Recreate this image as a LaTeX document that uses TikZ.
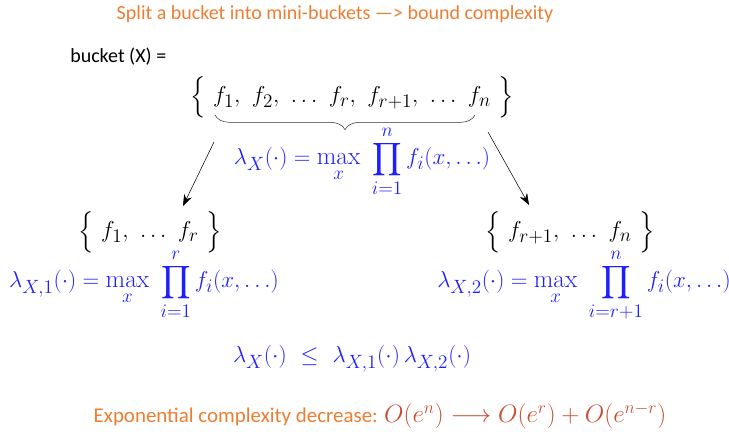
\documentclass[tikz,border=0pt]{standalone}
\usepackage{exscale}
\usepackage{amsmath}
\usepackage{fontspec}
\newfontfamily\calibri{Carlito}
\usepackage{xcolor}
\usetikzlibrary{arrows.meta,decorations.pathreplacing}

\definecolor{titleorange}{RGB}{237,125,49}
\definecolor{mathblue}{RGB}{30,30,255}
\definecolor{mathred}{RGB}{200,75,50}

\begin{document}
\begin{tikzpicture}[
    x=0.75pt, y=-0.75pt,
    mtext/.style={inner sep=0pt, font=\fontsize{19}{21}\selectfont},
    blue eq/.style={mtext, text=mathblue},
    slide text/.style={inner sep=0pt, font=\calibri\fontsize{15}{18}\selectfont},
    arrow/.style={-{Stealth[length=3mm,width=2.2mm]}, thin},
    underbrace/.style={decorate, decoration={brace, mirror, amplitude=11pt}, draw=black!80, thin}
  ]
    \useasboundingbox (0,0) rectangle (729,438);

    \node[slide text, text=titleorange] (title) at (335,14) {Split a bucket into mini-buckets —> bound complexity};
    \node[slide text, anchor=west] (bucket) at (70,57) {bucket (X) =};

    % whole bucket
    \node[mtext, anchor=base] (full) at (352,103)
      {$\Big\{\ f_1,\ f_2,\ \ldots\ f_r,\ f_{r+1},\ \ldots\ f_n\ \Big\}$};
    \coordinate (braceL) at (215,115);
    \coordinate (braceR) at (475,115);
    \draw[underbrace] (braceL) -- (braceR);
    \node[blue eq, anchor=base] (lamfull) at (362,165)
      {$\displaystyle \lambda_X(\cdot) = \max_x\ \prod_{i=1}^{n} f_i(x,\ldots)$};

    % mini-buckets
    \node[mtext, anchor=base] (left) at (150,238) {$\Big\{\ f_1,\ \ldots\ f_r\ \Big\}$};
    \node[mtext, anchor=base] (right) at (570,238) {$\Big\{\ f_{r+1},\ \ldots\ f_n\ \Big\}$};
    \node[blue eq, anchor=base] (lamleft) at (144,288)
      {$\displaystyle \lambda_{X,1}(\cdot) = \max_x\ \prod_{i=1}^{r} f_i(x,\ldots)$};
    \node[blue eq, anchor=base] (lamright) at (584,288)
      {$\displaystyle \lambda_{X,2}(\cdot) = \max_x\ \prod_{i=r+1}^{n} f_i(x,\ldots)$};

    \node[blue eq, anchor=base] (ineq) at (352,363)
      {$\lambda_X(\cdot)\ \le\ \lambda_{X,1}(\cdot)\,\lambda_{X,2}(\cdot)$};

    \node[anchor=base, inner sep=0pt] (decrease) at (380,423)
      {\calibri\fontsize{15.7}{18}\selectfont\color{titleorange}Exponential complexity decrease: \fontsize{18}{21}\selectfont\color{mathred}\scalebox{1.09}{$O(e^n) \longrightarrow O(e^r) + O(e^{n-r})$}};

    \coordinate (splitL) at (214,142);
    \coordinate (splitR) at (488,132);
    \coordinate (intoL) at (183,206);
    \coordinate (intoR) at (529,205);
    \draw[arrow] (splitL) -- (intoL);
    \draw[arrow] (splitR) -- (intoR);
  \end{tikzpicture}
\end{document}
